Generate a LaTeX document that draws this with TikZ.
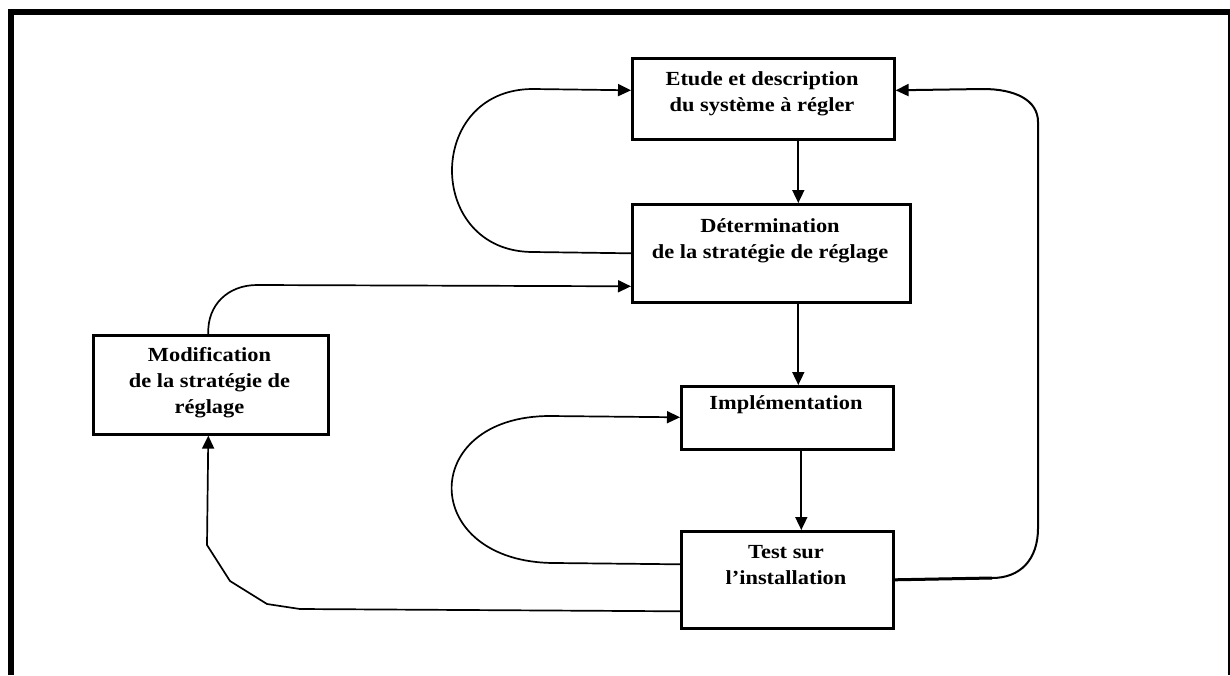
\documentclass[tikz,border=0pt]{standalone}
\usepackage{fontspec}
\setmainfont{Liberation Serif}[FakeStretch=1.12]
\usetikzlibrary{arrows.meta}
\begin{document}
\begin{tikzpicture}[x=1pt,y=-1pt,
  stepbox/.style={draw, line width=2.6pt, inner sep=0pt, anchor=north west},
  lbl/.style={align=center, inner sep=0pt, font=\fontsize{20}{26}\selectfont\bfseries},
  conn/.style={line width=1.7pt, line join=round},
  arr/.style={conn, -{Triangle[length=13pt,width=12pt]}},
  frame/.style={line width=6pt}]
\useasboundingbox (0,0) rectangle (1230,675);
% outer frame
\draw[frame] (11,675) -- (11,12) -- (1233,12);
\draw[line width=3pt] (1229.5,9) -- (1229.5,675);
% boxes
\node[stepbox, minimum width=262pt, minimum height=81pt] (b1) at (631,57) {};
\node[stepbox, minimum width=278pt, minimum height=98pt] (b2) at (631,203) {};
\node[stepbox, minimum width=235pt, minimum height=99pt] (bm) at (92,334) {};
\node[stepbox, minimum width=212pt, minimum height=63pt] (bi) at (680,385) {};
\node[stepbox, minimum width=212pt, minimum height=97pt] (bt) at (680,530) {};
% texts
\node[lbl] (t1) at (762,93.5) {Etude et description\\du système à régler};
\node[lbl] (t2) at (770,240.5) {Détermination\\de la stratégie de réglage};
\node[lbl] (tm) at (209.5,383) {Modification\\de la stratégie de\\réglage};
\node[lbl] (ti) at (786,405) {Implémentation};
\node[lbl] (tt) at (786,565.5) {Test sur\\l’installation};
% straight arrows
\draw[arr] ([xshift=35pt]b1.south) -- ([xshift=27pt]b2.north);
\draw[arr] ([xshift=27pt]b2.south) -- ([xshift=11pt]bi.north);
\draw[arr] ([xshift=14pt]bi.south) -- ([xshift=14pt]bt.north);
% loop b2 -> b1
\draw[arr] (b2.west) -- (533,252) .. controls (425,252) and (425,89) .. (533,89) -- ([yshift=8.5pt]b1.west);
% inner loop bt -> bi
\draw[arr] ([yshift=15.5pt]bt.west) -- (555,563) .. controls (419,563) and (417,416) .. (550,416) -- ([yshift=0.5pt]bi.west);
% modification -> b2
\draw[arr] ([xshift=-2.5pt]bm.north) .. controls (207,305) and (228,285) .. (257,285) -- ([yshift=-33pt]b2.west);
% bt -> modification
\draw[arr] ([yshift=-31.5pt]bt.west) -- (300,609) -- (267,604) -- (230,581) -- (207,545) -- ([xshift=-2.5pt]bm.south);
% bt -> b1 (right loop)
\draw[arr, line width=2pt] (bt.east) -- (992,578) .. controls (1020,578) and (1038,560) .. (1038,528) -- (1038,122) .. controls (1038,100) and (1015,89) .. (983,89) -- ([yshift=8.5pt]b1.east);
\draw[line width=3pt] (bt.east) -- (992,578);
\end{tikzpicture}
\end{document}
